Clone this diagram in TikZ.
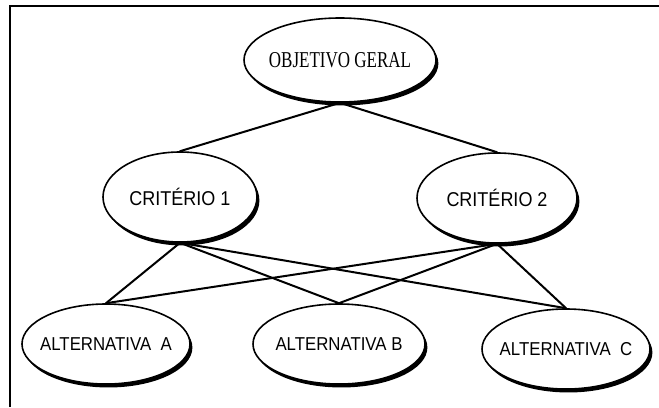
\documentclass[tikz,border=0pt]{standalone}
\usepackage{fontspec}
\setmainfont{Liberation Sans}
\newfontfamily\critfont{Liberation Sans}[FakeStretch=0.9]
\newfontfamily\objfont{Liberation Serif}[FakeStretch=0.75]
\usetikzlibrary{shapes.geometric,shadows}

\tikzset{
  caixa/.style={ellipse,draw,line width=1.2pt,fill=white,inner sep=0pt,
    general shadow={fill=black,shadow xshift=1.8pt,shadow yshift=-2.6pt}},
  liga/.style={line width=1.5pt,line cap=round},
}

\begin{document}
\begin{tikzpicture}[x=0.75pt,y=-0.75pt]
\useasboundingbox (0,0) rectangle (659,407);
% moldura
\draw[line width=1.5pt] (9.5,407) -- (9.5,6) -- (659,6);
% nivel 1
\node[caixa,minimum width=144pt,minimum height=63pt,
  label={center:\objfont\fontsize{17}{20}\selectfont OBJETIVO GERAL}] (obj) at (340,60) {};
% nivel 2
\node[caixa,minimum width=115.5pt,minimum height=67.5pt,
  label={center:\critfont\fontsize{15}{18}\selectfont CRITÉRIO 1}] (c1) at (180,197) {};
\node[caixa,minimum width=120pt,minimum height=67.5pt,
  label={center:\critfont\fontsize{15}{18}\selectfont CRITÉRIO 2}] (c2) at (497,198) {};
% nivel 3
\node[caixa,minimum width=126pt,minimum height=60pt,
  label={center:\critfont\fontsize{14}{17}\selectfont ALTERNATIVA\ \ A}] (altA) at (106,344) {};
\node[caixa,minimum width=129pt,minimum height=60pt,
  label={center:\critfont\fontsize{14}{17}\selectfont ALTERNATIVA B}] (altB) at (339,344) {};
\node[caixa,minimum width=126pt,minimum height=60pt,
  label={center:\critfont\fontsize{14}{17}\selectfont ALTERNATIVA\ \ C}] (altC) at (566,349) {};
% ligacoes
\draw[liga] (obj.south) -- (c1.north);
\draw[liga] (obj.south) -- (c2.north);
\foreach \c in {c1,c2}{
  \foreach \a in {altA,altB,altC}{
    \draw[liga] (\c.south) -- (\a.north);
  }
}
\end{tikzpicture}
\end{document}
